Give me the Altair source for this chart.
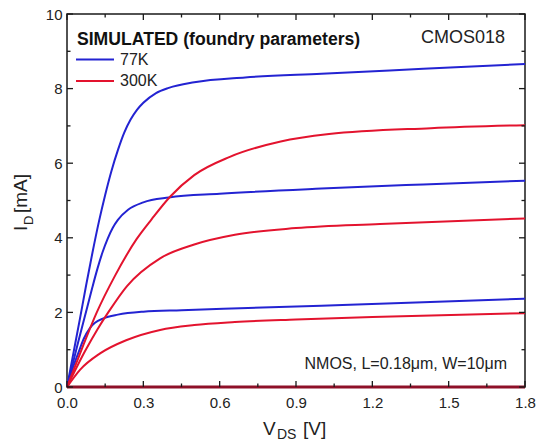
import altair as alt
import pandas as pd

# ---------------- data ----------------
# 77 K, highest gate voltage
v77_hi = [0, 0.025, 0.05, 0.075, 0.1, 0.125, 0.15, 0.175, 0.2, 0.225, 0.25, 0.275, 0.3, 0.35, 0.4, 0.5, 0.7, 1.0, 1.4, 1.8]
i77_hi = [0, 0.9, 1.8, 2.72, 3.6, 4.42, 5.15, 5.8, 6.35, 6.82, 7.17, 7.43, 7.62, 7.88, 8.02, 8.17, 8.3, 8.4, 8.53, 8.66]
# 77 K, middle gate voltage
v77_mid = [0, 0.04, 0.08, 0.1, 0.12, 0.14, 0.16, 0.18, 0.2, 0.24, 0.3, 0.4, 0.6, 1.0, 1.4, 1.8]
i77_mid = [0, 1.1, 2.15, 2.68, 3.18, 3.62, 3.98, 4.27, 4.48, 4.75, 4.95, 5.08, 5.18, 5.32, 5.43, 5.53]
# 77 K, lowest gate voltage
v77_lo = [0, 0.02, 0.044, 0.065, 0.09, 0.11, 0.143, 0.2, 0.3, 0.45, 0.68, 1.0, 1.4, 1.8]
i77_lo = [0, 0.45, 0.9, 1.28, 1.58, 1.72, 1.84, 1.94, 2.02, 2.06, 2.11, 2.18, 2.27, 2.37]
# 300 K, highest gate voltage
v300_hi = [0, 0.06, 0.117, 0.19, 0.274, 0.333, 0.405, 0.5, 0.64, 0.84, 1.03, 1.43, 1.8]
i300_hi = [0, 1.05, 2.0, 3.0, 3.97, 4.5, 5.1, 5.68, 6.17, 6.58, 6.78, 6.94, 7.02]
# 300 K, middle gate voltage
v300_mid = [0, 0.07, 0.12, 0.162, 0.235, 0.366, 0.5, 0.66, 0.9, 1.23, 1.8]
i300_mid = [0, 0.95, 1.55, 2.0, 2.7, 3.45, 3.82, 4.08, 4.26, 4.37, 4.52]
# 300 K, lowest gate voltage
v300_lo = [0, 0.051, 0.13, 0.235, 0.366, 0.5, 0.66, 0.9, 1.2, 1.8]
i300_lo = [0, 0.46, 0.9, 1.26, 1.53, 1.66, 1.74, 1.81, 1.88, 1.98]
# V_GS = 0 (both temperatures, on the axis)
v_zero = [0, 1.8]
i_zero = [0, 0]

temps = ["77K", "300K"]
colors = ["#2323d2", "#e3132e"]

x_major = [0.0, 0.3, 0.6, 0.9, 1.2, 1.5, 1.8]
x_minor = [0.15, 0.45, 0.75, 1.05, 1.35, 1.65]
y_major = [0, 2, 4, 6, 8, 10]
y_minor = [1, 3, 5, 7, 9]

# ---------------- tables ----------------
rows = []
for name, temp, vs, cs in [
    ("77hi", "77K", v77_hi, i77_hi), ("77mid", "77K", v77_mid, i77_mid), ("77lo", "77K", v77_lo, i77_lo),
    ("300hi", "300K", v300_hi, i300_hi), ("300mid", "300K", v300_mid, i300_mid), ("300lo", "300K", v300_lo, i300_lo),
]:
    for v, c in zip(vs, cs):
        rows.append({"V": v, "I": c, "curve": name, "T": temp})
curves = pd.DataFrame(rows)
zero = pd.DataFrame({"V": v_zero, "I": i_zero})

W, H = 458, 373
FONT = "Liberation Sans"

xs = alt.Scale(domain=[0, 1.8], nice=False, zero=False)
ys = alt.Scale(domain=[0, 10], nice=False)
xaxis = alt.Axis(values=x_major, format=".1f", title=None, ticks=False, domain=False, grid=False,
                 labelFontSize=15, labelFont=FONT, labelColor="#222", labelPadding=8,
                 labelFlush=False, labelOverlap=False)
yaxis = alt.Axis(values=y_major, format="d", title=None, ticks=False, domain=False, grid=False,
                 labelFontSize=15, labelFont=FONT, labelColor="#222", labelPadding=5,
                 labelOverlap=False)


def X(f="V"):
    return alt.X(f, type="quantitative", scale=xs, axis=xaxis)


def Y(f="I"):
    return alt.Y(f, type="quantitative", scale=ys, axis=yaxis)


lines = alt.Chart(curves).mark_line(strokeWidth=2, interpolate="monotone").encode(
    x=X(), y=Y(),
    color=alt.Color("T:N", scale=alt.Scale(domain=temps, range=colors), legend=None),
    detail="curve:N",
)
zero_line = alt.Chart(zero).mark_line(strokeWidth=3, color="#8e1028", clip=False).encode(x=X(), y=Y())

# inward ticks on all four sides
xt_major = pd.DataFrame({"V": x_major})
xt_minor = pd.DataFrame({"V": x_minor})
yt_major = pd.DataFrame({"I": y_major})
yt_minor = pd.DataFrame({"I": y_minor})
tick_style = dict(color="#1a1a1a", strokeWidth=1.3)
ticks = [
    alt.Chart(xt_major).mark_rule(**tick_style).encode(x=X(), y=alt.value(H), y2=alt.value(H - 6)),
    alt.Chart(xt_major).mark_rule(**tick_style).encode(x=X(), y=alt.value(0), y2=alt.value(6)),
    alt.Chart(xt_minor).mark_rule(**tick_style).encode(x=X(), y=alt.value(H), y2=alt.value(H - 3.5)),
    alt.Chart(xt_minor).mark_rule(**tick_style).encode(x=X(), y=alt.value(0), y2=alt.value(3.5)),
    alt.Chart(yt_major).mark_rule(**tick_style).encode(y=Y(), x=alt.value(0), x2=alt.value(6)),
    alt.Chart(yt_major).mark_rule(**tick_style).encode(y=Y(), x=alt.value(W), x2=alt.value(W - 6)),
    alt.Chart(yt_minor).mark_rule(**tick_style).encode(y=Y(), x=alt.value(0), x2=alt.value(3.5)),
    alt.Chart(yt_minor).mark_rule(**tick_style).encode(y=Y(), x=alt.value(W), x2=alt.value(W - 3.5)),
]

# legend
legend_title = alt.Chart(pd.DataFrame({"t": ["SIMULATED (foundry parameters)"]})).mark_text(
    font=FONT, fontSize=17.6, fontWeight="bold", align="left", baseline="alphabetic", color="#111"
).encode(x=alt.value(10), y=alt.value(31), text="t:N")
leg = pd.DataFrame({"T": temps, "ly": [45.5, 67]})
legend_lines = alt.Chart(leg).mark_rule(strokeWidth=2).encode(
    x=alt.value(9), x2=alt.value(47), y=alt.Y("ly:Q", scale=None),
    color=alt.Color("T:N", scale=alt.Scale(domain=temps, range=colors), legend=None),
)
legend_text = alt.Chart(pd.DataFrame({"T": temps, "ly": [51, 72]})).mark_text(
    font=FONT, fontSize=16, align="left", baseline="alphabetic", color="#222"
).encode(x=alt.value(53), y=alt.Y("ly:Q", scale=None), text="T:N")

cmos = alt.Chart(pd.DataFrame({"t": ["CMOS018"]})).mark_text(
    font=FONT, fontSize=18, align="right", baseline="alphabetic", color="#222"
).encode(x=alt.value(438), y=alt.value(29), text="t:N")
nmos = alt.Chart(pd.DataFrame({"t": ["NMOS, L=0.18\u03bcm, W=10\u03bcm"]})).mark_text(
    font=FONT, fontSize=16, align="right", baseline="alphabetic", color="#222"
).encode(x=alt.value(440), y=alt.value(355), text="t:N")

# axis titles with subscripts
tstyle = dict(font=FONT, color="#222", baseline="alphabetic", align="left")
ytitle = [
    alt.Chart(pd.DataFrame({"t": ["I"]})).mark_text(fontSize=19, angle=270, **tstyle)
    .encode(x=alt.value(-40), y=alt.value(217), text="t:N"),
    alt.Chart(pd.DataFrame({"t": ["D"]})).mark_text(fontSize=13, angle=270, **tstyle)
    .encode(x=alt.value(-34), y=alt.value(211), text="t:N"),
    alt.Chart(pd.DataFrame({"t": ["[mA]"]})).mark_text(fontSize=19, angle=270, **tstyle)
    .encode(x=alt.value(-40), y=alt.value(199), text="t:N"),
]
xtitle = [
    alt.Chart(pd.DataFrame({"t": ["V"]})).mark_text(fontSize=19, **tstyle)
    .encode(x=alt.value(196), y=alt.value(421), text="t:N"),
    alt.Chart(pd.DataFrame({"t": ["DS"]})).mark_text(fontSize=14, **tstyle)
    .encode(x=alt.value(210), y=alt.value(425), text="t:N"),
    alt.Chart(pd.DataFrame({"t": ["[V]"]})).mark_text(fontSize=19, **tstyle)
    .encode(x=alt.value(236), y=alt.value(421), text="t:N"),
]

chart = alt.layer(
    lines, zero_line, *ticks, legend_title, legend_lines, legend_text, cmos, nmos, *ytitle, *xtitle
).properties(
    width=W, height=H,
    padding={"left": 67, "top": 14, "right": 14, "bottom": 57},
    autosize=alt.AutoSizeParams(type="none"),
    background="white",
).configure_view(stroke="#1a1a1a", strokeWidth=1.5).resolve_scale(color="shared")

chart.save("out.html", embed_options={"renderer": "svg", "actions": False})
